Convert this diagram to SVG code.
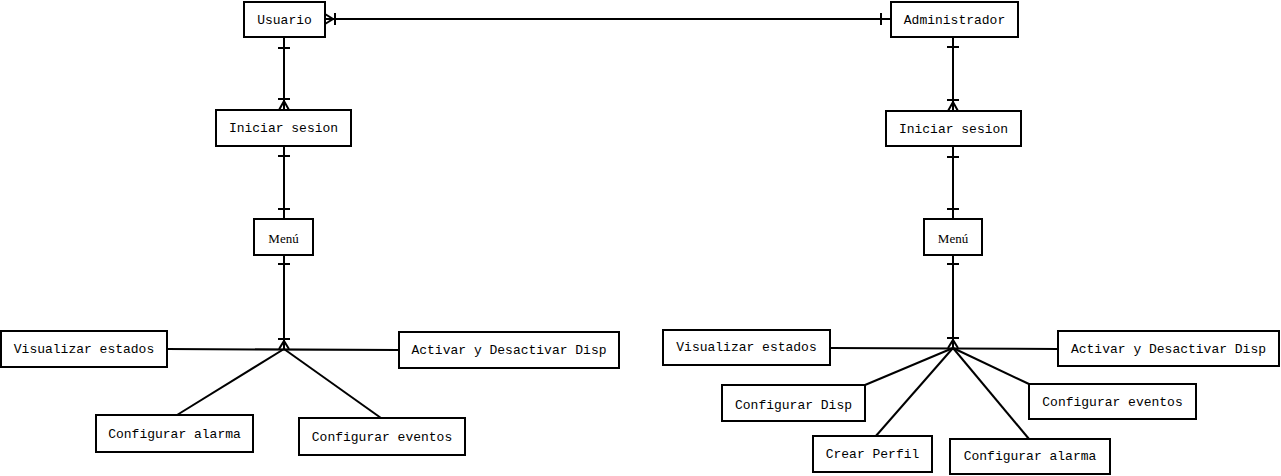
<svg xmlns="http://www.w3.org/2000/svg" width="1281" height="476" viewBox="0 0 1281 476">
<style>
.box{fill:#fff;stroke:#000;stroke-width:2}
.t{font-family:"Liberation Mono","Courier New",monospace;font-size:13px;fill:#000;text-anchor:middle;dominant-baseline:central}
.s{font-family:"Liberation Serif","Times New Roman",serif;font-size:13px;fill:#000;text-anchor:middle;dominant-baseline:central}
#connectors line,#connectors path{stroke:#000;stroke-width:2;fill:none}
</style>
<rect width="1281" height="476" fill="#fff"/>
<g id="connectors">
<line x1="325" y1="19" x2="891" y2="19"/>
<path d="M325 14 L333 19 L325 24 M335 13 V25 M881 13 V25"/>
<line x1="284" y1="37" x2="284" y2="110"/>
<path d="M278 48 H290 M278 99 H290 M279 110 L284 101 L289 110"/>
<line x1="284" y1="146" x2="284" y2="219"/>
<path d="M278 156 H290 M278 209 H290"/>
<line x1="284" y1="255" x2="284" y2="349"/>
<path d="M278 264 H290 M278 339 H290 M279 349 L284 341 L289 349"/>
<line x1="167" y1="349" x2="399" y2="350"/>
<line x1="284" y1="349" x2="177" y2="415"/>
<line x1="284" y1="349" x2="381" y2="418"/>
<line x1="953" y1="37" x2="953" y2="111"/>
<path d="M947 47 H959 M947 100 H959 M948 111 L953 102 L958 111"/>
<line x1="953" y1="146" x2="953" y2="219"/>
<path d="M947 157 H959 M947 209 H959"/>
<line x1="953" y1="255" x2="953" y2="348"/>
<path d="M947 264 H959 M947 338 H959 M948 348 L953 340 L958 348"/>
<line x1="830" y1="348" x2="1058" y2="349"/>
<line x1="953" y1="348" x2="865" y2="385"/>
<line x1="953" y1="348" x2="1029" y2="384"/>
<line x1="953" y1="348" x2="875" y2="437"/>
<line x1="953" y1="348" x2="1029" y2="439"/>
</g>
<g id="usuario"><rect class="box" x="244" y="2" width="81" height="35"/><text class="t" x="284.5" y="20">Usuario</text></g>
<g id="administrador"><rect class="box" x="891" y="2" width="127" height="35"/><text class="t" x="954.5" y="20">Administrador</text></g>
<g id="iniciar-sesion-1"><rect class="box" x="216" y="110" width="135" height="36"/><text class="t" x="283.5" y="128">Iniciar sesion</text></g>
<g id="iniciar-sesion-2"><rect class="box" x="886" y="111" width="135" height="35"/><text class="t" x="953.5" y="129">Iniciar sesion</text></g>
<g id="menu-1"><rect class="box" x="254" y="219" width="59" height="36"/><text class="s" x="283.5" y="238">Menú</text></g>
<g id="menu-2"><rect class="box" x="924" y="219" width="58" height="36"/><text class="s" x="953" y="238">Menú</text></g>
<g id="visualizar-1"><rect class="box" x="1" y="331" width="166" height="36"/><text class="t" x="84" y="349">Visualizar estados</text></g>
<g id="activar-1"><rect class="box" x="399" y="332" width="220" height="36"/><text class="t" x="509" y="350">Activar y Desactivar Disp</text></g>
<g id="alarma-1"><rect class="box" x="96" y="415" width="157" height="37"/><text class="t" x="174.5" y="434">Configurar alarma</text></g>
<g id="eventos-1"><rect class="box" x="299" y="418" width="166" height="37"/><text class="t" x="382" y="437">Configurar eventos</text></g>
<g id="visualizar-2"><rect class="box" x="663" y="330" width="167" height="35"/><text class="t" x="746.5" y="347">Visualizar estados</text></g>
<g id="activar-2"><rect class="box" x="1058" y="331" width="221" height="35"/><text class="t" x="1168.5" y="349">Activar y Desactivar Disp</text></g>
<g id="configurar-disp"><rect class="box" x="722" y="385" width="143" height="36"/><text class="t" x="793.5" y="405">Configurar Disp</text></g>
<g id="eventos-2"><rect class="box" x="1029" y="384" width="167" height="35"/><text class="t" x="1112.5" y="402">Configurar eventos</text></g>
<g id="crear-perfil"><rect class="box" x="813" y="436" width="119" height="36"/><text class="t" x="872.5" y="454">Crear Perfil</text></g>
<g id="alarma-2"><rect class="box" x="950" y="439" width="160" height="35"/><text class="t" x="1030" y="456">Configurar alarma</text></g>
</svg>
